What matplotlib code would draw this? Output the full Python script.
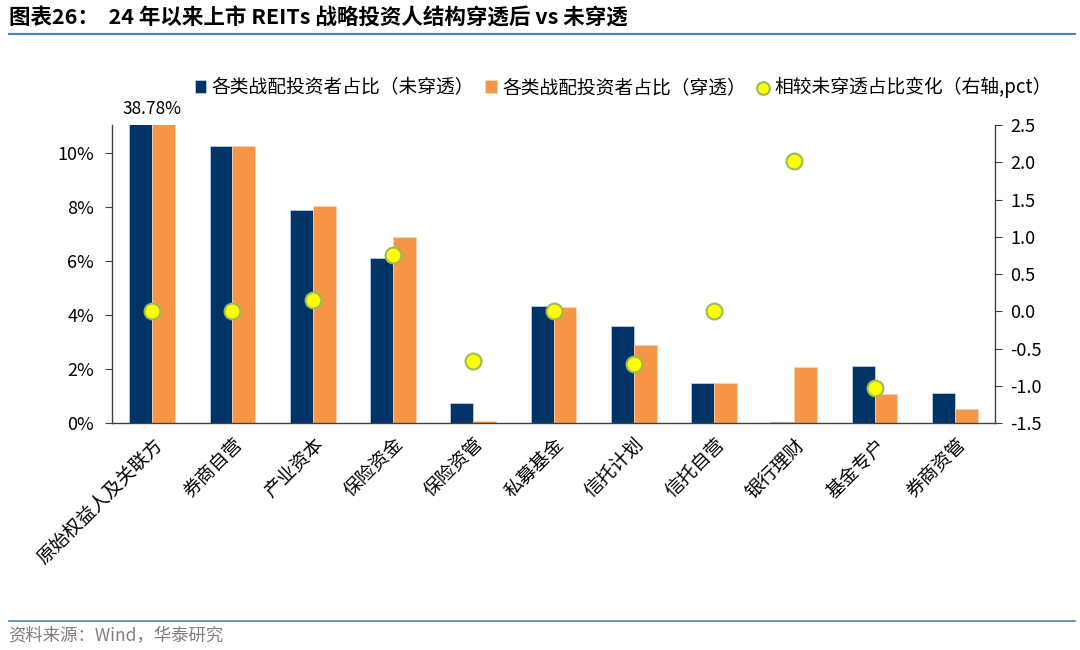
import numpy as np
import matplotlib.pyplot as plt

plt.rcParams['font.family'] = ['Noto Sans CJK SC', 'DejaVu Sans']

# data
categories = ['原始权益人及关联方', '券商自营', '产业资本', '保险资金', '保险资管', '私募基金',
              '信托计划', '信托自营', '银行理财', '基金专户', '券商资管']
share_raw = [38.78, 10.26, 7.89, 6.11, 0.74, 4.33, 3.59, 1.48, 0.04, 2.11, 1.11]      # 未穿透, %
share_look = [38.78, 10.26, 8.04, 6.89, 0.07, 4.31, 2.89, 1.48, 2.07, 1.07, 0.52]     # 穿透, %
change_pct = [0.0, 0.0, 0.15, 0.75, -0.67, 0.0, -0.71, 0.0, 2.02, -1.03, np.nan]      # 右轴, pct

navy = '#003366'
orange = '#F79646'

fig = plt.figure(figsize=(10.8, 6.5), dpi=100)
ax = fig.add_axes([0.1037, 0.3492, 0.8176, 0.4585])
ax2 = ax.twinx()

x = np.arange(len(categories))
w = 0.285
ax.bar(x - w/2, np.array(share_raw)/100, w, color=navy, edgecolor='#c9d6e6', linewidth=0.5,
       label='各类战配投资者占比（未穿透）', zorder=2)
ax.bar(x + w/2, np.array(share_look)/100, w, color=orange, edgecolor='#fbd3b4', linewidth=0.5,
       label='各类战配投资者占比（穿透）', zorder=2)
ax.set_ylim(0, 0.1104)
ax.set_xlim(-0.5, len(categories) - 0.5)
ax.set_yticks([0, 0.02, 0.04, 0.06, 0.08, 0.10])
ax.set_yticklabels(['0%', '2%', '4%', '6%', '8%', '10%'], fontsize=13)
ax.text(0, 0.1104 + 0.0025, f'{share_raw[0]:.2f}%', ha='center', va='bottom', fontsize=12.5)

ax.set_xticks(x)
ax.set_xticklabels(categories, rotation=45, ha='right', rotation_mode='anchor', fontsize=13.5)
ax.tick_params(axis='x', length=0, pad=8)

ax2.scatter(x, change_pct, s=130, color='#FFFF00', edgecolor='#9BBB59', linewidth=1.5,
            zorder=5, label='相较未穿透占比变化（右轴,pct）')
ax2.set_ylim(-1.5, 2.5)
ax2.set_yticks(np.arange(-1.5, 2.51, 0.5))
ax2.set_yticklabels([f'{v:.1f}' for v in np.arange(-1.5, 2.51, 0.5)], fontsize=13)

for a in (ax, ax2):
    a.spines['top'].set_visible(False)
    for s in ('left', 'right', 'bottom'):
        a.spines[s].set_color('#404040')
        a.spines[s].set_linewidth(1.0)
ax.spines['right'].set_visible(False)
ax2.spines['left'].set_visible(False)
ax2.spines['bottom'].set_visible(False)
ax.tick_params(axis='y', direction='out', length=5, color='#404040', pad=8)
ax2.tick_params(axis='y', direction='out', length=5, color='#404040', pad=6)
ax.set_zorder(1)
ax2.set_zorder(2)

h1, l1 = ax.get_legend_handles_labels()
h2, l2 = ax2.get_legend_handles_labels()
fig.legend(h1 + h2, l1 + l2, loc='center', bbox_to_anchor=(0.577, 0.865), ncol=3, frameon=False,
           fontsize=13.5, handlelength=0.6, handletextpad=0.3, columnspacing=0.6, markerscale=0.8)

# title and footer
fig.text(0.008, 0.972, '图表26：  24 年以来上市 REITs 战略投资人结构穿透后 vs 未穿透', fontsize=15.5,
         fontweight='bold', ha='left', va='center')
fig.add_artist(plt.Line2D([0.008, 0.995], [0.947, 0.947], color='#4F81BD', linewidth=1.5))
fig.add_artist(plt.Line2D([0.008, 0.995], [0.045, 0.045], color='#4F81BD', linewidth=1.2))
fig.text(0.008, 0.021, '资料来源：Wind，华泰研究', fontsize=12.5, color='#7f7f7f', ha='left', va='center')

fig.savefig('out.png', dpi=100)
